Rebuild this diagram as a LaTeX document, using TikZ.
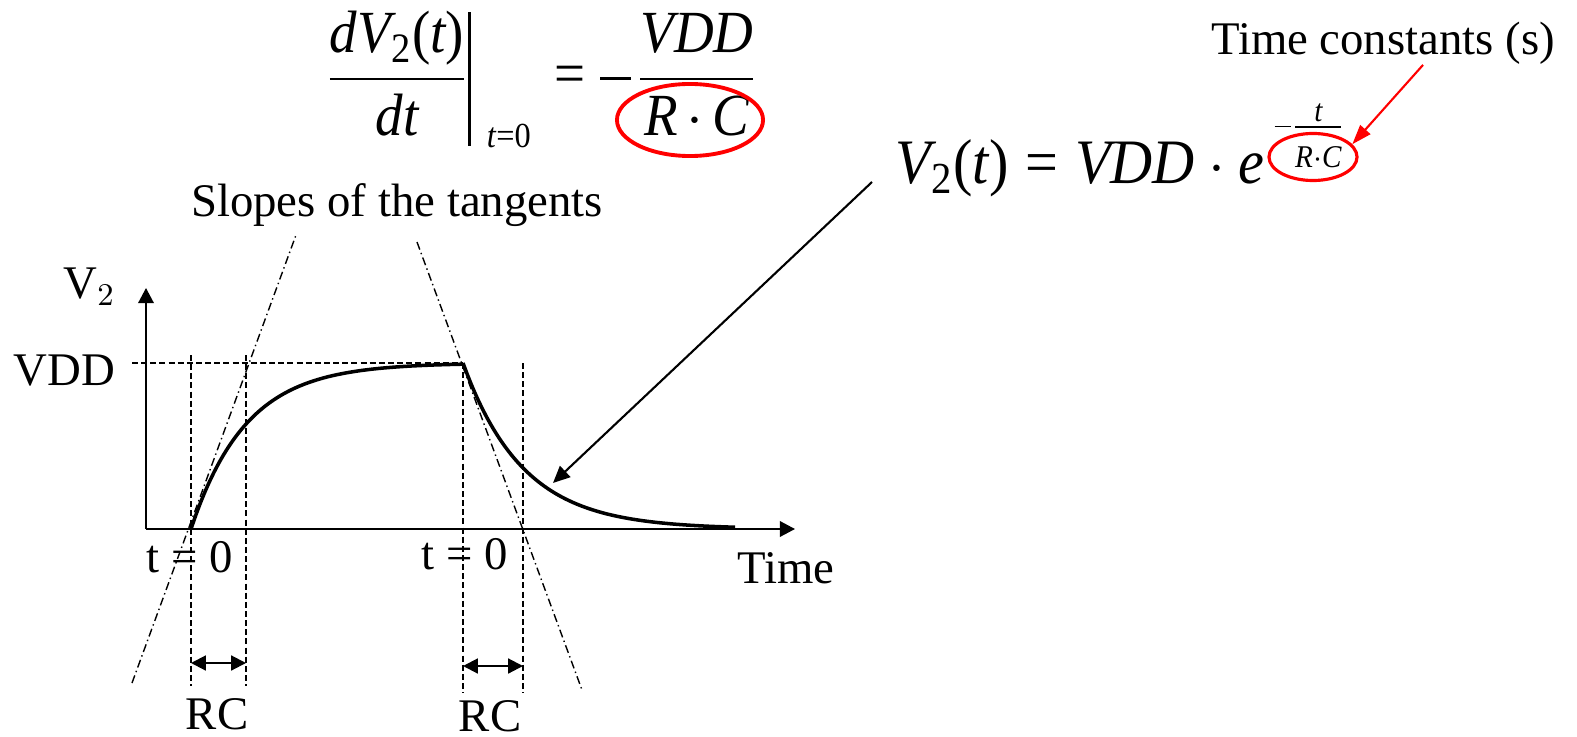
\documentclass[tikz,border=0pt]{standalone}
\usepackage{amsmath}
\usepackage{fontspec}
\setmainfont{Liberation Serif}
\newfontfamily\mathserif{Liberation Serif}[FakeStretch=0.92]
\usepackage{xcolor}
\colorlet{colRing}{red}
\colorlet{colTrace}{black}
\usepackage{tikz}
\usetikzlibrary{arrows.meta, shapes.geometric}
\newcommand{\vi}[1]{\text{\mathserif\itshape #1}}
\newcommand{\vu}[1]{\text{\mathserif #1}}
\newcommand{\vminus}{\vu{\rule[0.235em]{0.52em}{0.055em}}}
\newcommand{\evalbar}{\mathclose{\vcenter{\hbox{\rule[-19pt]{0.8pt}{38pt}}}}}

\begin{document}
\begin{tikzpicture}[x=0.01cm, y=-0.01cm,
	lbl/.style={font=\fontsize{13.3}{16}\selectfont, inner sep=0pt},
	axisline/.style={line width=0.57pt, -{Triangle[length=4.3pt,width=4.4pt]}},
	guide/.style={line width=0.5pt, dash pattern=on 1.7pt off 0.9pt},
	tangent/.style={line width=0.4pt, dash pattern=on 2.3pt off 1pt on 0.4pt off 1pt},
	response/.style={line width=1pt, colTrace},
	rcspan/.style={line width=0.6pt, {Triangle[length=4.2pt,width=4.2pt]}-{Triangle[length=4.2pt,width=4.2pt]}},
	ring/.style={ellipse, draw=colRing, inner sep=0pt},
	pointer/.style={line width=0.6pt, -{Triangle[length=4.8pt,width=4.3pt]}}]
				\useasboundingbox (0,0) rectangle (1577,737);
				\coordinate (org) at (146,529);
				\draw[axisline] (org) -- (795,529);
				\draw[axisline] (org) -- (146,288);
				\draw[guide] (132,363) -- (463,363);
				\foreach \gx/\gtop/\gbot in {191/355/686, 246/355/686, 463/363/693, 523/363/693}
					\draw[guide] (\gx,\gtop) -- (\gx,\gbot);
				\draw[tangent] (132,683) -- (296,235);
				\draw[tangent] (417,242) -- (582,690);
				\draw[response] plot[smooth, samples=60, domain=191:463] (\x, {529-166*(1-exp(-(\x-191)/55))});
				\draw[response] plot[smooth, samples=60, domain=463:735] (\x, {363+166*(1-exp(-(\x-463)/60))});
				\coordinate (rcL1) at (191,663);
				\coordinate (rcL2) at (246,663);
				\coordinate (rcR1) at (463,666);
				\coordinate (rcR2) at (523,666);
				\draw[rcspan] (rcL1) -- (rcL2);
				\draw[rcspan] (rcR1) -- (rcR2);
				\node[lbl, anchor=base west] (v2lbl) at (63,298) {V$_2$};
				\node[lbl, anchor=base west] (vddlbl) at (13,385) {VDD};
				\node[lbl] (tzeroA) at (190,557) {t = 0};
				\node[lbl] (tzeroB) at (465,554) {t = 0};
				\node[lbl] (timelbl) at (786,568) {Time};
				\node[lbl] (rcA) at (217,714) {RC};
				\node[lbl] (rcB) at (490,716) {RC};
				\node[lbl] (slopes) at (397,205) {Slopes of the tangents};
				\node[lbl] (tconst) at (1383,43) {Time constants (s)};
				\node[anchor=base west, inner sep=0pt, font=\fontsize{17}{20}\selectfont] (slopeeq) at (325,94)
					{$\displaystyle \frac{\vi{dV}_{\vu{2}}\vu{(}\vi{t}\vu{)}}{\vi{dt}}\evalbar_{\kern4.5pt\text{\fontsize{10}{12}\mathserif\itshape t\/\upshape=0}}
					\kern1.4pt\mathrel{\vu{=}}\kern-0.6pt \vminus\kern1.4pt\frac{\vi{VDD}}{\vi{R}\mkern2.5mu{\cdot}\mkern2.5mu\vi{C}}$};
				\node[anchor=base west, inner sep=0pt, font=\fontsize{18}{22}\selectfont] (v2eq) at (895,184)
					{$\vi{V}_{\vu{2}}\vu{(}\vi{t}\vu{)} \mathrel{\vu{=}} \vi{VDD}\cdot \vi{e}\,\raisebox{14pt}{$\scriptscriptstyle \vminus\frac{\vi{t}}{\rule{0pt}{11pt}\vi{R}\cdot\vi{C}}$}$};
				\node[ring, line width=1.1pt, minimum width=1.46cm, minimum height=0.72cm] (ringA) at (690,120) {};
				\node[ring, line width=0.9pt, minimum width=0.88cm, minimum height=0.47cm] (ringB) at (1313,157) {};
				\coordinate (eqfoot) at (872,182);
				\coordinate (decaypt) at (553,483);
				\draw[pointer] (eqfoot) -- (decaypt);
				\draw[pointer, colRing, -{Triangle[length=5.6pt,width=3.8pt]}] ([xshift=0.4cm]tconst.south) -- (ringB.18);
\end{tikzpicture}
\end{document}
